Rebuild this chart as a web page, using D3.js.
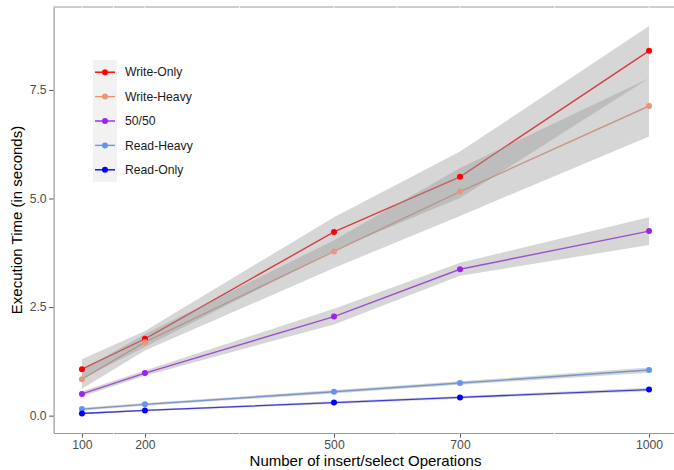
<!DOCTYPE html>
<html>
<head>
<meta charset="utf-8">
<script src="https://cdn.jsdelivr.net/npm/d3@7"></script>
<style>
  body { margin: 0; background: #fff; }
  text { font-family: "Liberation Sans", Arial, sans-serif; }
</style>
</head>
<body>
<svg id="svg" width="674" height="470"></svg>
<script>
const w = 674;
const h = 470;

// data
const ops = [100, 200, 500, 700, 1000];
const seriesNames = ["Write-Only", "Write-Heavy", "50/50", "Read-Heavy", "Read-Only"];
const seriesColors = ["#FF0000", "#E9967A", "#A020F0", "#6495ED", "#0000FF"];

const writeOnly = [1.07, 1.77, 4.23, 5.5, 8.4];
const writeHeavy = [0.84, 1.69, 3.78, 5.16, 7.13];
const fiftyFifty = [0.5, 0.98, 2.28, 3.37, 4.25];
const readHeavy = [0.15, 0.26, 0.55, 0.75, 1.05];
const readOnly = [0.05, 0.12, 0.3, 0.42, 0.6];

// smoother confidence bands (lower / upper)
const writeOnlyLo = [0.85, 1.58, 3.81, 5.01, 7.77];
const writeOnlyHi = [1.3, 1.95, 4.57, 6.08, 8.97];
const writeHeavyLo = [0.62, 1.5, 3.4, 4.6, 6.43];
const writeHeavyHi = [1.05, 1.88, 4.04, 5.7, 7.77];
const fiftyLo = [0.44, 0.92, 2.1, 3.22, 3.93];
const fiftyHi = [0.56, 1.04, 2.46, 3.52, 4.57];
const readHeavyLo = [0.12, 0.23, 0.51, 0.71, 0.99];
const readHeavyHi = [0.18, 0.29, 0.59, 0.79, 1.11];
const readOnlyLo = [0.03, 0.1, 0.27, 0.39, 0.56];
const readOnlyHi = [0.07, 0.14, 0.33, 0.45, 0.64];

const yTicks = [0, 2.5, 5, 7.5];
const xMinor = [150, 350, 600, 850];

const values = [writeOnly, writeHeavy, fiftyFifty, readHeavy, readOnly];
const lows = [writeOnlyLo, writeHeavyLo, fiftyLo, readHeavyLo, readOnlyLo];
const highs = [writeOnlyHi, writeHeavyHi, fiftyHi, readHeavyHi, readOnlyHi];

const series = seriesNames.map((name, i) => ({
  name,
  color: seriesColors[i],
  points: ops.map((x, j) => ({ x, y: values[i][j], lo: lows[i][j], hi: highs[i][j] })),
}));

let svg = d3.select("#svg");

const panelLeft = 53.6;
const panelRight = 677.4;
const panelTop = 7;
const panelBottom = 433;

let xScale = d3.scaleLinear([55, 1045], [panelLeft, panelRight]);
let yScale = d3.scaleLinear([-0.4, 9.41], [panelBottom, panelTop]);

// frame line on top
svg.append("line")
  .attr("x1", panelLeft).attr("x2", w)
  .attr("y1", panelTop).attr("y2", panelTop)
  .attr("stroke", "#999").attr("stroke-width", 1.2);

let xAxis = svg.append("g")
  .attr("transform", `translate(0,${panelBottom})`)
  .call(d3.axisBottom(xScale).tickValues(ops).tickFormat(d3.format("d")).tickSize(4.5).tickSizeOuter(0).tickPadding(3));

let yAxis = svg.append("g")
  .attr("transform", `translate(${panelLeft},0)`)
  .call(d3.axisLeft(yScale).tickValues(yTicks).tickFormat(d3.format(".1f")).tickSize(4.5).tickSizeOuter(0).tickPadding(2.5));

[xAxis, yAxis].forEach((g) => {
  g.select(".domain").attr("stroke", "#999").attr("stroke-width", 1.2);
  g.selectAll(".tick line").attr("stroke", "#555").attr("stroke-width", 1);
  g.selectAll(".tick text")
    .attr("fill", "#4D4D4D")
    .style("font-size", "12.2px")
    .style("font-family", '"Liberation Sans", Arial, sans-serif');
});

// white grid lines break the frame lines
svg.append("g")
  .selectAll("line")
  .data(ops.concat(xMinor))
  .join("line")
  .attr("x1", (d) => xScale(d)).attr("x2", (d) => xScale(d))
  .attr("y1", panelTop - 1).attr("y2", panelBottom + 1)
  .attr("stroke", "#fff").attr("stroke-width", 0.8);

let lineFunc = d3.line()
  .x((d) => xScale(d.x))
  .y((d) => yScale(d.y));

let areaFunc = d3.area()
  .x((d) => xScale(d.x))
  .y0((d) => yScale(d.lo))
  .y1((d) => yScale(d.hi));

svg.append("g")
  .selectAll("path")
  .data(series)
  .join("path")
  .attr("fill", "none")
  .attr("stroke", (d) => d.color)
  .attr("stroke-width", 1.4)
  .attr("d", (d) => lineFunc(d.points));

svg.append("g")
  .selectAll("path")
  .data(series)
  .join("path")
  .attr("fill", "#999999")
  .attr("fill-opacity", 0.4)
  .attr("d", (d) => areaFunc(d.points));

svg.append("g")
  .selectAll("g")
  .data(series)
  .join("g")
  .attr("fill", (d) => d.color)
  .selectAll("circle")
  .data((d) => d.points)
  .join("circle")
  .attr("cx", (d) => xScale(d.x))
  .attr("cy", (d) => yScale(d.y))
  .attr("r", 3);

// axis titles
svg.append("text")
  .attr("x", (panelLeft + panelRight) / 2)
  .attr("y", 466)
  .attr("text-anchor", "middle")
  .attr("fill", "#000")
  .style("font-size", "15px")
  .text("Number of insert/select Operations");

svg.append("text")
  .attr("transform", `translate(22,${(panelTop + panelBottom) / 2}) rotate(-90)`)
  .attr("text-anchor", "middle")
  .attr("fill", "#000")
  .style("font-size", "15px")
  .text("Execution Time (in seconds)");

// legend
const legX = 93;
const legY = 60;
const keyH = 24.4;

let legend = svg.append("g").attr("transform", `translate(${legX},${legY})`);

legend.append("rect")
  .attr("width", 24)
  .attr("height", keyH * series.length)
  .attr("fill", "#F2F2F2");

let item = legend.selectAll("g")
  .data(series)
  .join("g")
  .attr("transform", (d, i) => `translate(0,${i * keyH + keyH / 2})`);

item.append("line")
  .attr("x1", 2).attr("x2", 22)
  .attr("stroke", (d) => d.color)
  .attr("stroke-width", 1.4);

item.append("circle")
  .attr("cx", 12)
  .attr("r", 3)
  .attr("fill", (d) => d.color);

item.append("text")
  .attr("x", 32)
  .attr("dy", "0.35em")
  .attr("fill", "#1A1A1A")
  .style("font-size", "12.2px")
  .text((d) => d.name);
</script>
</body>
</html>
